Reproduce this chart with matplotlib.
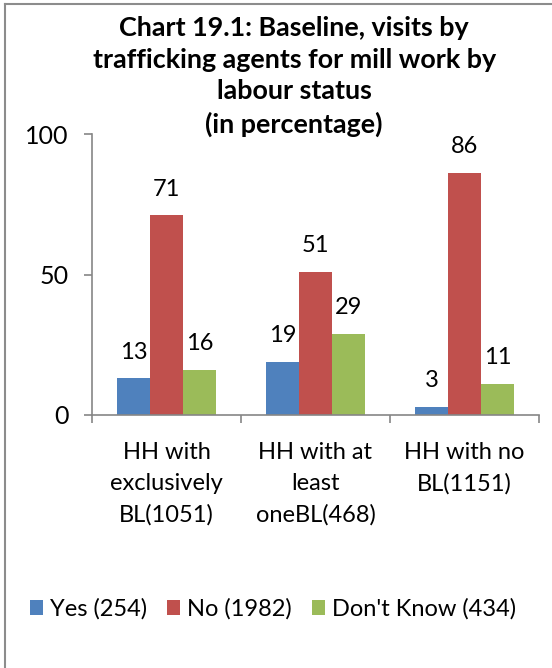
import numpy as np
import matplotlib.pyplot as plt
from matplotlib.lines import Line2D

# Data
groups = ['HH with\nexclusively\nBL(1051)', 'HH with at\nleast\noneBL(468)', 'HH with no\nBL(1151)']
series = ['Yes (254)', 'No (1982)', "Don't Know (434)"]
yes = [13, 19, 3]
no = [71, 51, 86]
dont_know = [16, 29, 11]
colors = ['#4F81BD', '#C0504D', '#9BBB59']

plt.rcParams['font.family'] = ['Lato', 'DejaVu Sans']

fig = plt.figure(figsize=(5.52, 6.68), dpi=100)
ax = fig.add_axes([92/552, 1-415/668, 447/552, 281/668])

x = np.arange(len(groups))
w = 0.22
for i, (vals, lab, c) in enumerate(zip([yes, no, dont_know], series, colors)):
    ax.bar(x + (i-1)*w, vals, w, color=c, label=lab, edgecolor='none')
    for xi, v in zip(x + (i-1)*w, vals):
        ax.annotate(str(v), (xi, v), xytext=(0, 19), textcoords='offset points',
                    ha='center', va='center', fontsize=17)

ax.set_xlim(-0.5, 2.5)
ax.set_ylim(0, 100)
ax.set_yticks([0, 50, 100])
ax.set_xticks([-0.5, 0.5, 1.5, 2.5])
ax.set_xticklabels([])
for xi, g in zip(x, groups):
    ax.text(xi, -0.095, g, transform=ax.get_xaxis_transform(), ha='center', va='top',
            fontsize=17, linespacing=1.6)

for s in ['top', 'right']:
    ax.spines[s].set_visible(False)
for s in ['left', 'bottom']:
    ax.spines[s].set_color('#868686')
    ax.spines[s].set_linewidth(1.2)
ax.tick_params(axis='both', color='#868686', width=1.2, length=6, labelsize=18)
ax.tick_params(axis='y', pad=11)

fig.text(0.533, 1-16/668, 'Chart 19.1: Baseline, visits by\ntrafficking agents for mill work by\nlabour status\n(in percentage)',
         ha='center', va='top', fontsize=19.4, fontweight='bold', linespacing=1.38)

fig.legend(loc='center', bbox_to_anchor=(0.495, 1-609/668), ncol=3, frameon=False,
           fontsize=17, handlelength=0.55, handleheight=0.55, handletextpad=0.3,
           columnspacing=0.85)

# figure frame (top and left edges)
fig.add_artist(Line2D([5/552, 1], [1-4/668, 1-4/668], color='#8c8c8c', lw=1.5))
fig.add_artist(Line2D([5/552, 5/552], [0, 1-4/668], color='#8c8c8c', lw=1.5))

fig.savefig('out.png', dpi=100)
